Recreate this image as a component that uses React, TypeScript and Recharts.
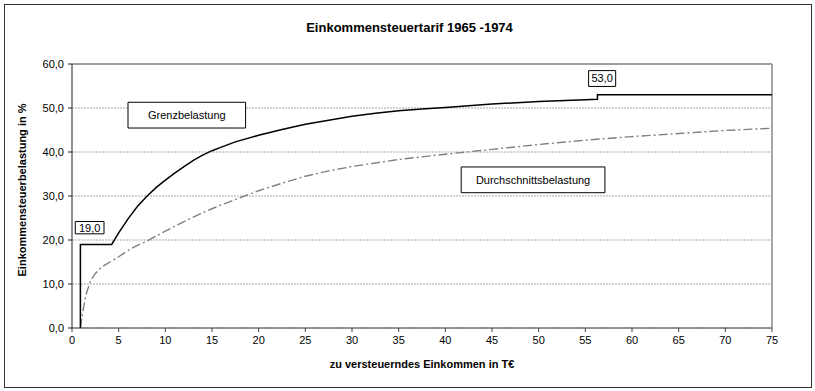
import React from 'react';
import {
  LineChart,
  Line,
  XAxis,
  YAxis,
  CartesianGrid,
  ReferenceLine,
  ReferenceArea,
} from 'recharts';

// Einkommensteuertarif 1965-1974, values (T€ / %)
const grenzX = [0.9, 0.9, 4.25, 5, 6, 7, 8, 9, 10, 11, 12, 13, 14, 15, 16, 17.5, 20, 22.5, 25, 27.5, 30, 32.5, 35, 37.5, 40, 45, 50, 55, 56.3, 56.3, 75];
const grenzY = [0, 19, 19, 21.6, 24.8, 27.6, 29.9, 31.9, 33.6, 35.2, 36.7, 38.1, 39.3, 40.3, 41.1, 42.3, 43.8, 45.1, 46.3, 47.2, 48.1, 48.8, 49.4, 49.8, 50.1, 50.9, 51.5, 51.9, 52, 53, 53];

const durchX = [0.9, 1, 1.2, 1.5, 2, 2.5, 3, 3.5, 4.25, 5, 6, 7, 8, 9, 10, 11, 12, 13, 14, 15, 16, 17, 18, 20, 22.5, 25, 27.5, 30, 35, 40, 45, 50, 55, 60, 65, 70, 75];
const durchY = [0, 1.5, 4.2, 7.6, 10.8, 12.4, 13.5, 14.3, 15.2, 16.2, 17.6, 18.8, 19.7, 20.9, 22.0, 23.1, 24.2, 25.2, 26.2, 27.1, 28.0, 28.8, 29.6, 31.2, 32.9, 34.5, 35.7, 36.7, 38.3, 39.5, 40.6, 41.7, 42.7, 43.5, 44.2, 44.9, 45.4];

const xTicks = [0, 5, 10, 15, 20, 25, 30, 35, 40, 45, 50, 55, 60, 65, 70, 75];
const yTicks = [0, 10, 20, 30, 40, 50, 60];

const title = 'Einkommensteuertarif 1965 -1974';
const xTitle = 'zu versteuerndes Einkommen in T€';
const yTitle = 'Einkommensteuerbelastung in %';

const grenzData = grenzX.map((x, i) => ({ x, y: grenzY[i] }));
const durchData = durchX.map((x, i) => ({ x, y: durchY[i] }));

const font = 'Arial, "Liberation Sans", sans-serif';
const fmt = (v: number) => v.toFixed(1).replace('.', ',');

export default function App() {
  return (
    <div style={{ position: 'absolute', left: 0, top: 0, width: 815, height: 391, background: '#fff', fontFamily: font }}>
      <div
        style={{
          position: 'absolute',
          left: 4,
          top: 4,
          width: 806,
          height: 382,
          border: '1px solid #333',
        }}
      />
      <div
        style={{
          position: 'absolute',
          left: 2,
          width: 815,
          top: 20,
          textAlign: 'center',
          fontWeight: 'bold',
          fontSize: 13,
        }}
      >
        {title}
      </div>
      <div style={{ position: 'absolute', left: 0, top: 0 }}>
        <LineChart
          width={815}
          height={391}
          margin={{ top: 64, right: 43, bottom: 13, left: 0 }}
        >
          <CartesianGrid vertical={false} stroke="#a8a8a8" strokeDasharray="2 1" />
          <XAxis
            type="number"
            dataKey="x"
            domain={[0, 75]}
            ticks={xTicks}
            allowDuplicatedCategory={false}
            height={50}
            tickSize={4}
            tickMargin={4}
            tick={{ fill: '#000', fontSize: 11, fontFamily: font }}
            axisLine={{ stroke: '#444' }}
            tickLine={{ stroke: '#444' }}
            label={{ value: xTitle, position: 'insideBottom', offset: 10, fill: '#000', fontSize: 11, fontWeight: 'bold', fontFamily: font }}
          />
          <YAxis
            type="number"
            domain={[0, 60]}
            ticks={yTicks}
            width={72}
            tickSize={4}
            tickMargin={4}
            tickFormatter={fmt}
            tick={{ fill: '#000', fontSize: 11, fontFamily: font }}
            axisLine={{ stroke: '#222' }}
            tickLine={{ stroke: '#222' }}
            label={{
              value: yTitle,
              angle: -90,
              position: 'insideLeft',
              offset: 22,
              dy: -6,
              fill: '#000',
              fontSize: 11,
              fontWeight: 'bold',
              fontFamily: font,
              style: { textAnchor: 'middle' },
            }}
          />
          <ReferenceLine y={60} stroke="#888" strokeWidth={1.5} />
          <ReferenceLine x={75} stroke="#888" strokeWidth={1.5} />
          <Line
            data={durchData}
            dataKey="y"
            type="linear"
            stroke="#808080"
            strokeWidth={1.4}
            strokeDasharray="9 3 2 3"
            dot={false}
            isAnimationActive={false}
          />
          <Line
            data={grenzData}
            dataKey="y"
            type="linear"
            stroke="#000"
            strokeWidth={1.5}
            dot={false}
            isAnimationActive={false}
          />
          <ReferenceArea
            x1={6}
            x2={18.6}
            y1={45.45}
            y2={51.3}
            fill="#fff"
            fillOpacity={1}
            stroke="#000"
            strokeWidth={1}
            label={{ value: 'Grenzbelastung', position: 'center', fill: '#000', fontSize: 11, fontFamily: font }}
          />
          <ReferenceArea
            x1={41.7}
            x2={57.1}
            y1={30.75}
            y2={36.6}
            fill="#fff"
            fillOpacity={1}
            stroke="#000"
            strokeWidth={1}
            label={{ value: 'Durchschnittsbelastung', position: 'center', fill: '#000', fontSize: 11, fontFamily: font }}
          />
          <ReferenceArea
            x1={0.35}
            x2={3.43}
            y1={21.4}
            y2={24.2}
            fill="#fff"
            fillOpacity={1}
            stroke="#000"
            strokeWidth={1}
            label={{ value: '19,0', position: 'center', fill: '#000', fontSize: 11, fontFamily: font }}
          />
          <ReferenceArea
            x1={55.35}
            x2={58.25}
            y1={54.9}
            y2={58.5}
            fill="#fff"
            fillOpacity={1}
            stroke="#000"
            strokeWidth={1}
            label={{ value: '53,0', position: 'center', fill: '#000', fontSize: 11, fontFamily: font }}
          />
        </LineChart>
      </div>
    </div>
  );
}
